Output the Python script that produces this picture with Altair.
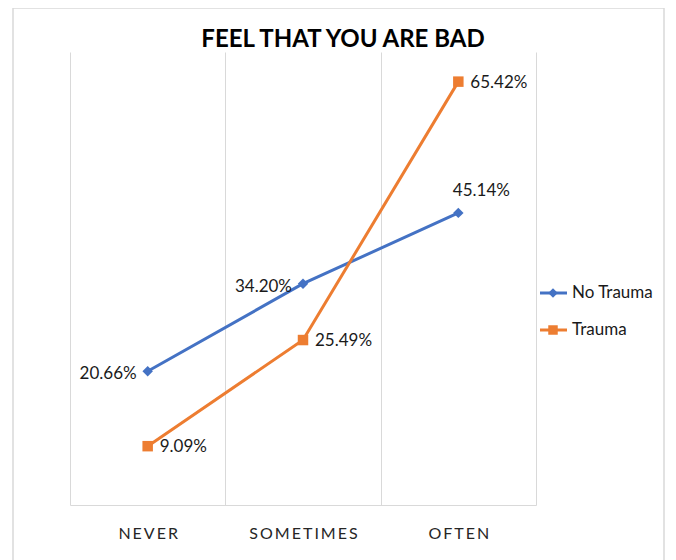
import altair as alt
import pandas as pd

categories = ["NEVER", "SOMETIMES", "OFTEN"]
no_trauma = [20.66, 34.20, 45.14]
trauma = [9.09, 25.49, 65.42]
series_names = ["No Trauma", "Trauma"]
colors = ["#4472C4", "#ED7D31"]
shapes = ["diamond", "square"]

rows = []
for s, vals in zip(series_names, [no_trauma, trauma]):
    for c, v in zip(categories, vals):
        rows.append({"category": c, "series": s, "value": v, "label": f"{v:.2f}%"})
df = pd.DataFrame(rows)
legend_df = pd.DataFrame({"series": series_names})

FONT = "Lato"
TXT = "#1a1a1a"

x_enc = alt.X(
    "category:N", sort=categories, title=None,
    scale=alt.Scale(type="band", paddingInner=0, paddingOuter=0),
    axis=alt.Axis(grid=True, tickBand="extent", gridColor="#d9d9d9", gridWidth=1,
                  domainColor="#d9d9d9", domainWidth=1, ticks=False, labelAngle=0,
                  labelFontSize=16, labelFont=FONT, labelColor="#262626", labelPadding=20,
                  labelExpr="join(split(datum.label, ''), '\u2009')"),
)
y_enc = alt.Y("value:Q", scale=alt.Scale(domain=[0, 70]), axis=None)
color_enc = alt.Color("series:N", scale=alt.Scale(domain=series_names, range=colors), legend=None)
shape_enc = alt.Shape("series:N", scale=alt.Scale(domain=series_names, range=shapes), legend=None)

base = alt.Chart(df)

frame = alt.Chart(alt.Data(values=[{}])).mark_rect(
    fillOpacity=0, stroke="#d9d9d9", strokeWidth=1.5
).encode(x=alt.value(-57), x2=alt.value(594), y=alt.value(-44), y2=alt.value(520))

lines = base.mark_line(strokeWidth=3).encode(x=x_enc, y=y_enc, color=color_enc, detail="series:N")
points = base.mark_point(filled=True, opacity=1, size=110).encode(
    x=x_enc, y=y_enc, color=color_enc, shape=shape_enc)

text_kw = dict(font=FONT, fontSize=17, color=TXT, baseline="middle")
t_left = base.transform_filter(
    "datum.series == 'No Trauma' && datum.category != 'OFTEN'"
).mark_text(align="right", dx=-11, dy=3, **text_kw).encode(x=x_enc, y=y_enc, text="label:N")
t_top = base.transform_filter(
    "datum.series == 'No Trauma' && datum.category == 'OFTEN'"
).mark_text(align="center", dx=23, dy=-22, **text_kw).encode(x=x_enc, y=y_enc, text="label:N")
t_right = base.transform_filter(
    "datum.series == 'Trauma'"
).mark_text(align="left", dx=12, dy=1, **text_kw).encode(x=x_enc, y=y_enc, text="label:N")

leg_y = alt.Y("series:N", sort=series_names,
              scale=alt.Scale(type="point", range=[241, 278], padding=0), axis=None)
leg_rule = alt.Chart(legend_df).mark_rule(strokeWidth=3).encode(
    x=alt.value(470), x2=alt.value(497), y=leg_y, color=color_enc)
leg_pt = alt.Chart(legend_df).mark_point(filled=True, opacity=1, size=90).encode(
    x=alt.value(483), y=leg_y, color=color_enc, shape=shape_enc)
leg_txt = alt.Chart(legend_df).mark_text(align="left", dx=0, **text_kw).encode(
    x=alt.value(502), y=leg_y, text="series:N")

chart = alt.layer(
    frame, lines, points, t_left, t_top, t_right, leg_rule, leg_pt, leg_txt
).resolve_scale(y="independent").properties(
    width=466, height=453,
    title=alt.TitleParams("FEEL THAT YOU ARE BAD", fontSize=24, font=FONT, fontWeight="bold",
                          color="#000000", anchor="middle", dx=40, dy=69, offset=0,
                          baseline="bottom"),
    autosize=alt.AutoSizeParams(type="none"),
    padding={"left": 62, "top": 44, "right": 130, "bottom": 55},
).configure_view(stroke=None)

chart.save("out.html", embed_options={"renderer": "svg", "actions": False})
